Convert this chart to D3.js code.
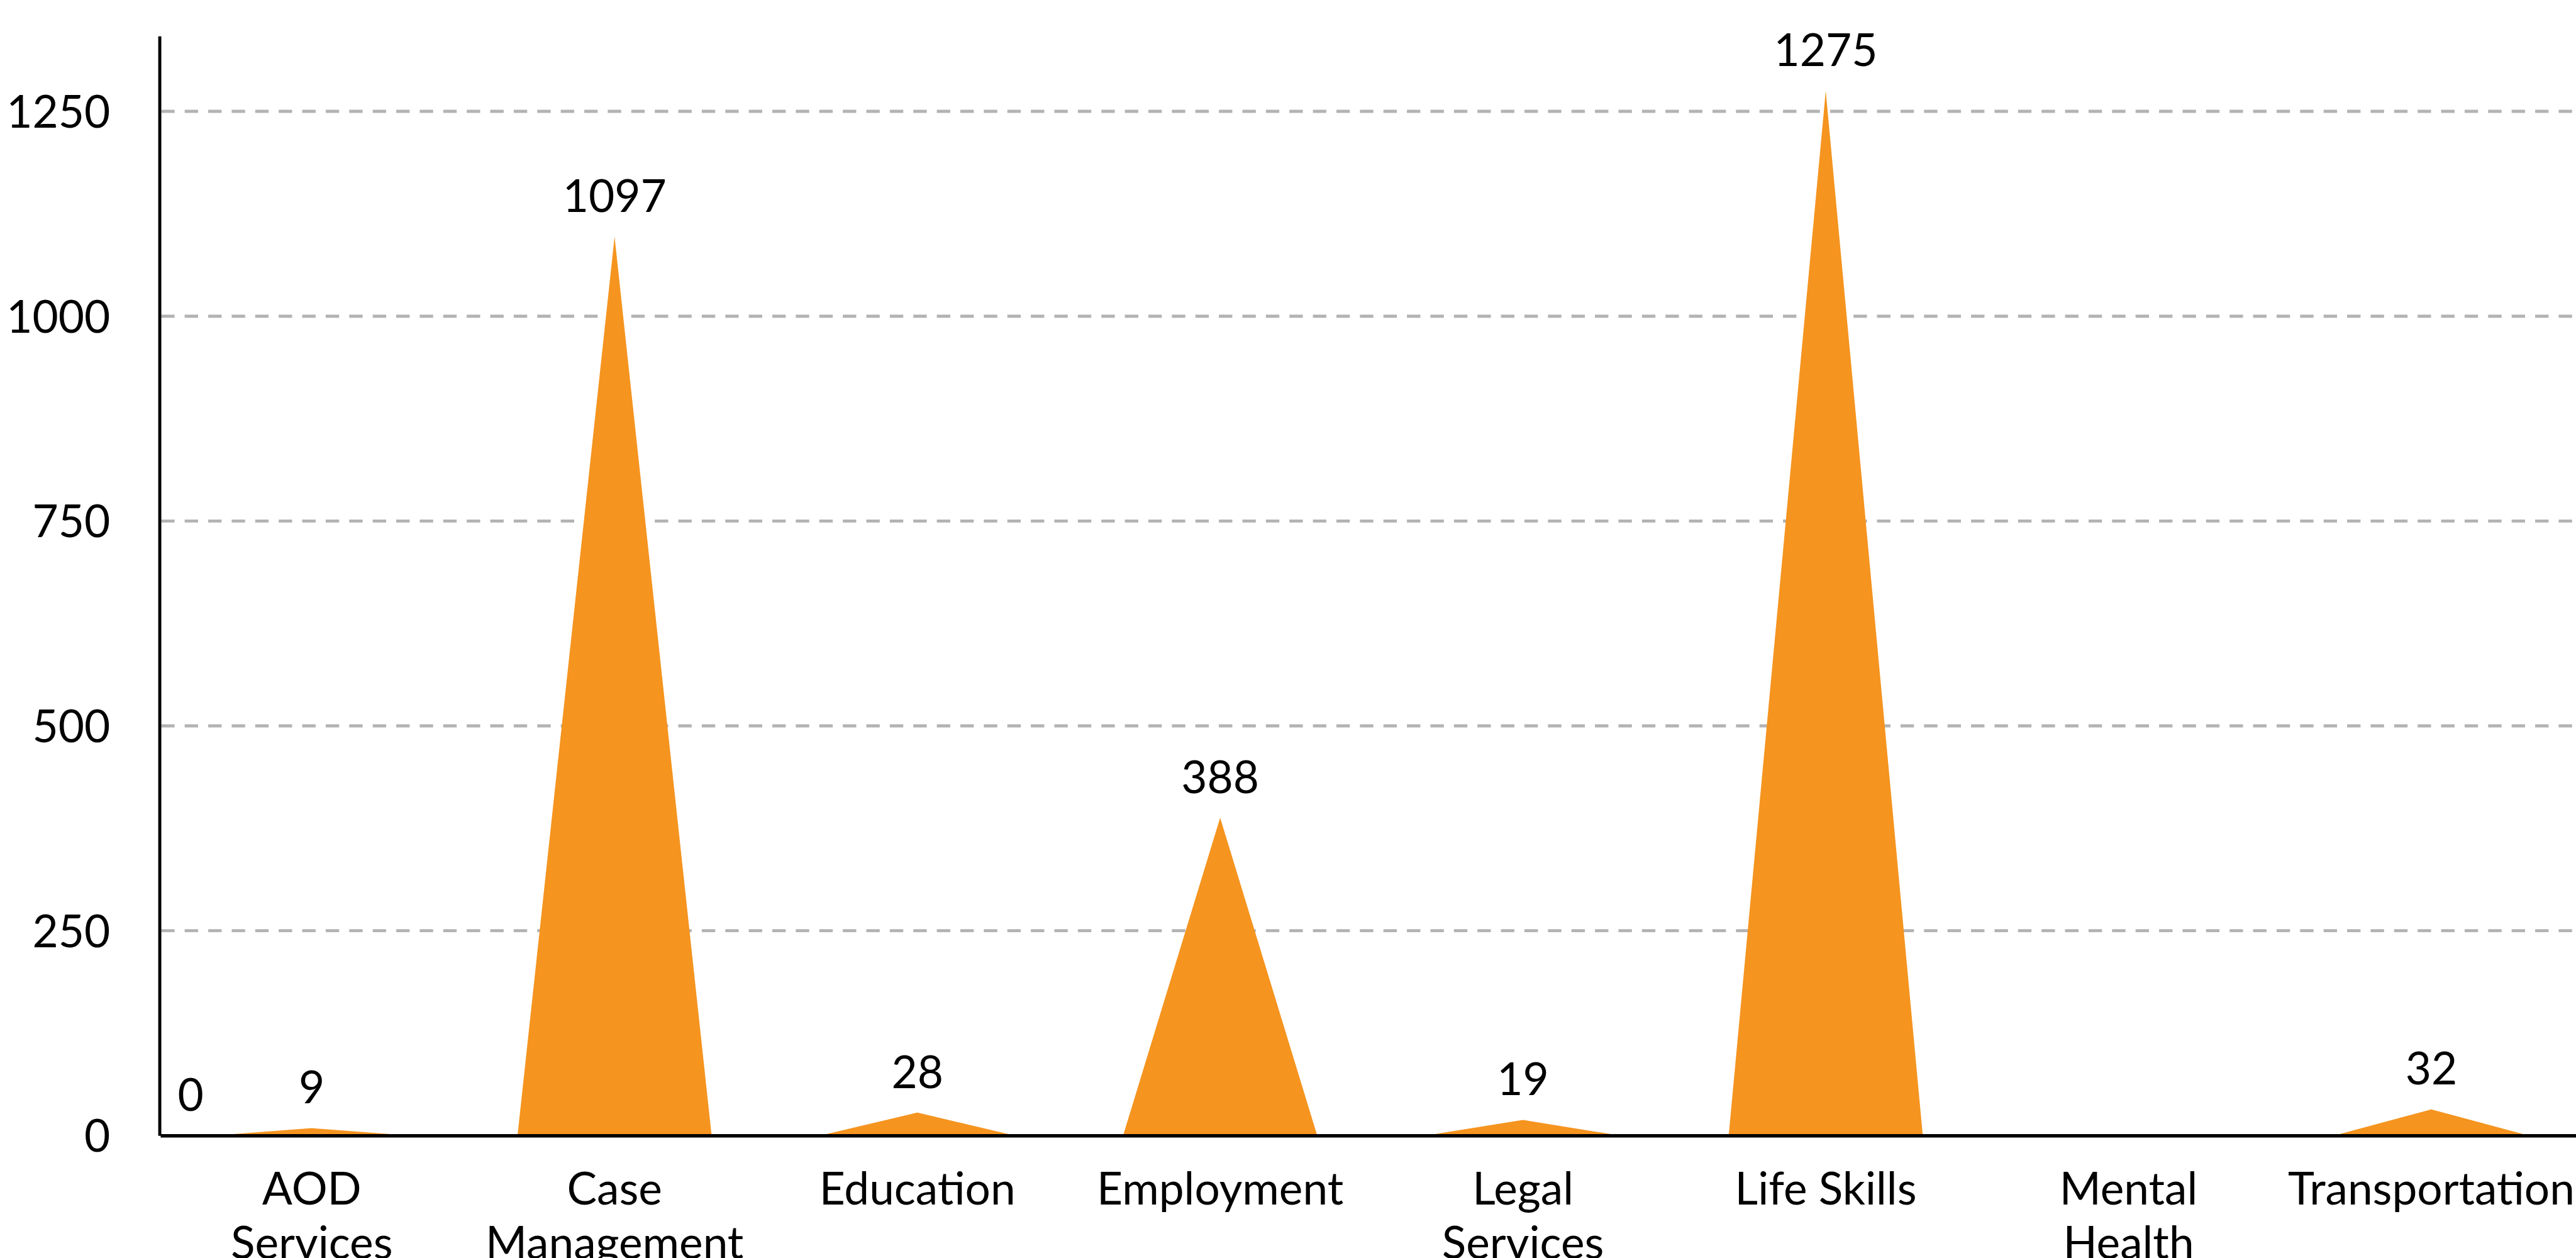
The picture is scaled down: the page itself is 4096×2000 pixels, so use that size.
<!DOCTYPE html>
<html>
<head>
<meta charset="utf-8">
<script src="https://cdn.jsdelivr.net/npm/d3@7"></script>
<style>
    html, body { margin: 0; padding: 0; background: #fff; }
    svg { display: block; }
    text { font-family: Lato, "Open Sans", sans-serif; fill: #000; }
</style>
</head>
<body>
<div id="chart"></div>
<script>
var categories = ["AOD Services", "Case Management", "Education", "Employment",
                  "Legal Services", "Life Skills", "Mental Health", "Transportation"];
var counts = [9, 1097, 28, 388, 19, 1275, 0, 32];
var yTicks = [0, 250, 500, 750, 1000, 1250];
var yMax = 1342;

// everything is laid out in the reference's pixels, the viewBox shrinks it to 0.889
var W = 4603, H = 2247;
var fontSize = 80;
var orange = "#F5941F";

var svg = d3.select("#chart")
    .append("svg")
    .attr("width", 4096)
    .attr("height", 2000)
    .attr("viewBox", "0 0 " + W + " " + H);

var x = d3.scaleBand()
    .domain(categories)
    .range([286.6, 4615])
    .padding(0);

var y = d3.scaleLinear()
    .domain([0, yMax])
    .range([2028.5, 64]);

var bw = x.bandwidth() * 0.641;

// dashed grid
svg.append("g")
    .selectAll("line")
    .data(yTicks.filter(function (d) { return d > 0; }))
    .enter().append("line")
    .attr("x1", 288)
    .attr("x2", W)
    .attr("y1", function (d) { return y(d); })
    .attr("y2", function (d) { return y(d); })
    .attr("stroke", "#B3B3B3")
    .attr("stroke-width", 5.5)
    .attr("stroke-dasharray", "24 18");

var data = categories.map(function (c, i) { return {cat: c, v: counts[i]}; });

// triangles
svg.append("g")
    .selectAll("path")
    .data(data.filter(function (d) { return d.v > 0; }))
    .enter().append("path")
    .attr("d", function (d) {
        var cx = x(d.cat) + x.bandwidth() / 2;
        return "M" + (cx - bw / 2) + "," + y(0) +
            "L" + cx + "," + y(d.v) +
            "L" + (cx + bw / 2) + "," + y(0) + "Z";
    })
    .style("fill", orange);

// y axis
var yAxis = svg.append("g")
    .attr("transform", "translate(285,0)")
    .call(d3.axisLeft(y).tickValues(yTicks).tickFormat(d3.format("d")).tickSize(0).tickPadding(88));

yAxis.select(".domain")
    .attr("stroke", "#000")
    .attr("stroke-width", 5.5);

yAxis.selectAll("text")
    .attr("font-size", fontSize)
    .attr("font-family", "Lato")
    .attr("dy", "0.36em")
    .style("fill", "#000");

// x axis
var xAxis = svg.append("g")
    .attr("transform", "translate(0," + y(0) + ")")
    .call(d3.axisBottom(x).tickSize(0).tickSizeOuter(0).tickPadding(67));

xAxis.select(".domain")
    .attr("stroke", "#000")
    .attr("stroke-width", 6);

xAxis.selectAll("text")
    .attr("font-size", fontSize)
    .attr("font-family", "Lato")
    .style("fill", "#000")
    .call(wrap, 445);

function wrap(text, width) {
    text.each(function () {
        var t = d3.select(this);
        var words = t.text().split(/\s+/);
        var lines = [], line = [];
        t.text(null);
        var probe = t.append("tspan");
        words.forEach(function (w) {
            line.push(w);
            probe.text(line.join(" "));
            if (probe.node().getComputedTextLength() > width && line.length > 1) {
                line.pop();
                lines.push(line.join(" "));
                line = [w];
            }
        });
        lines.push(line.join(" "));
        probe.remove();
        lines.forEach(function (l, i) {
            t.append("tspan")
                .attr("x", 0)
                .attr("dy", i == 0 ? "0.71em" : "1.2em")
                .text(l);
        });
    });
}

// value labels, the zero one sits at the left end like in the original
svg.append("g")
    .selectAll("text")
    .data(data)
    .enter().append("text")
    .attr("x", function (d) {
        if (d.v > 0) return x(d.cat) + x.bandwidth() / 2;
        return x.range()[0] + x.bandwidth() * 0.1;
    })
    .attr("y", function (d) { return y(d.v) - 44; })
    .attr("text-anchor", "middle")
    .attr("font-size", fontSize)
    .text(function (d) { return d.v; });
</script>
</body>
</html>
